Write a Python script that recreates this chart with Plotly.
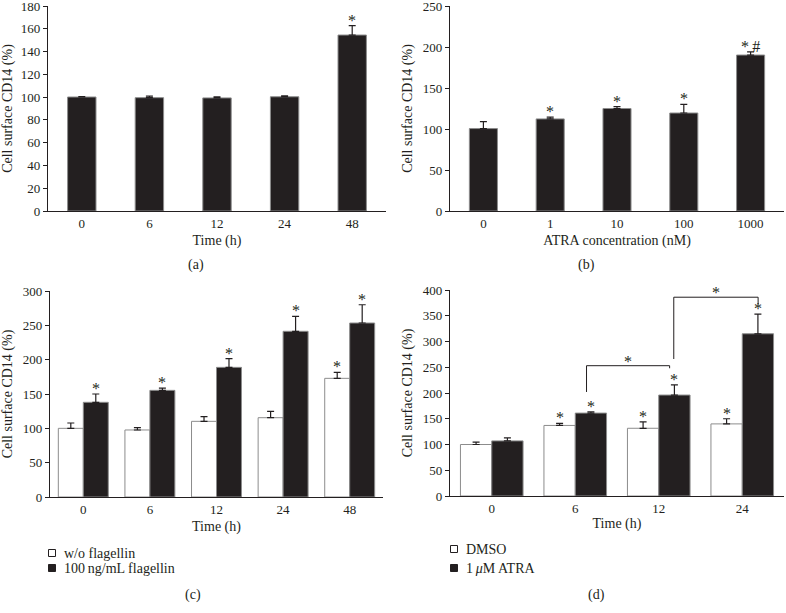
import plotly.graph_objects as go

# ---------------- data ----------------
# Panel (a): time course
time_a = ["0", "6", "12", "24", "48"]
cd14_a = [100.1, 99.5, 99.3, 100.3, 154.5]
err_a = [0.3, 1.4, 1.0, 0.9, 8.2]
sig_a = ["", "", "", "", "*"]

# Panel (b): ATRA dose
atra_b = ["0", "1", "10", "100", "1000"]
cd14_b = [100.5, 112.3, 125.0, 119.5, 190.2]
err_b = [8.5, 2.3, 2.3, 10.5, 3.8]
sig_b = ["", "*", "*", "*", "*\u2009#"]

# Panel (c): flagellin
time_c = ["0", "6", "12", "24", "48"]
cd14_c_ctrl = [100.0, 97.6, 110.2, 115.5, 172.8]
err_c_ctrl = [7.8, 3.3, 6.8, 9.3, 8.8]
sig_c_ctrl = ["", "", "", "", "*"]
cd14_c_flag = [137.9, 155.3, 188.8, 241.3, 253.4]
err_c_flag = [12.1, 3.4, 12.7, 21.7, 26.6]
sig_c_flag = ["*", "*", "*", "*", "*"]
legend_c = ["w/o flagellin", "100\u2009ng/mL flagellin"]

# Panel (d): DMSO vs ATRA
time_d = ["0", "6", "12", "24"]
cd14_d_dmso = [100.0, 137.0, 131.5, 140.0]
err_d_dmso = [4.5, 4.0, 12.5, 10.0]
sig_d_dmso = ["", "*", "*", "*"]
cd14_d_atra = [107.0, 161.0, 196.0, 315.0]
err_d_atra = [6.0, 2.6, 19.6, 38.0]
sig_d_atra = ["", "*", "*", "*"]
legend_d = ["DMSO", "1\u2009<i>\u03bc</i>M ATRA"]
# significance brackets in (d): x_from, x_to, y_top, y_left_end, y_right_end
brk_x0 = [1.135, 2.18]
brk_x1 = [2.13, 3.19]
brk_top = [253, 386]
brk_left = [202, 266]
brk_right = [248, 372]

# ---------------- styling ----------------
W, H = 786, 613
INK = "#231f20"
BLACK = "#231f20"
EDGE = "#8c8c8c"
FONT = "Liberation Serif"
FS_TICK = 13
FS = 14


def px(x):
    return x / W


def py(y):
    return 1 - y / H


fig = go.Figure()


def add_bars(xa, ya, cats, vals, errs, color, name, offset, width):
    n = len(cats)
    fig.add_trace(go.Bar(
        x=list(range(n)), y=vals, name=name, showlegend=False,
        xaxis=xa, yaxis=ya, offset=offset, width=width,
        marker=dict(color=color, line=dict(color=EDGE, width=1)),
        error_y=dict(type="data", array=errs, arrayminus=[0] * n,
                     symmetric=False, color=INK, thickness=1.2, width=3.5),
    ))


def add_stars(xref, yref, vals, errs, sigs, shift):
    for i, (v, e, s) in enumerate(zip(vals, errs, sigs)):
        if s:
            fig.add_annotation(x=i + shift, y=v + e, xref=xref, yref=yref,
                               text=s, showarrow=False, yanchor="bottom",
                               yshift=-5, font=dict(family=FONT, size=16, color=INK))


# (a)
add_bars("x", "y", time_a, cd14_a, err_a, BLACK, "CD14", -0.21, 0.42)
add_stars("x", "y", cd14_a, err_a, sig_a, 0)
# (b)
add_bars("x2", "y2", atra_b, cd14_b, err_b, BLACK, "CD14", -0.21, 0.42)
add_stars("x2", "y2", cd14_b, err_b, sig_b, 0)
# (c)
add_bars("x3", "y3", time_c, cd14_c_ctrl, err_c_ctrl, "white", legend_c[0], -0.375, 0.375)
add_bars("x3", "y3", time_c, cd14_c_flag, err_c_flag, BLACK, legend_c[1], 0.0, 0.375)
add_stars("x3", "y3", cd14_c_ctrl, err_c_ctrl, sig_c_ctrl, -0.1875)
add_stars("x3", "y3", cd14_c_flag, err_c_flag, sig_c_flag, 0.1875)
# (d)
add_bars("x4", "y4", time_d, cd14_d_dmso, err_d_dmso, "white", "DMSO", -0.375, 0.375)
add_bars("x4", "y4", time_d, cd14_d_atra, err_d_atra, BLACK, "1 μM ATRA", 0.0, 0.375)
add_stars("x4", "y4", cd14_d_dmso, err_d_dmso, sig_d_dmso, -0.1875)
add_stars("x4", "y4", cd14_d_atra, err_d_atra, sig_d_atra, 0.1875)

for x0, x1, yt, yl, yr in zip(brk_x0, brk_x1, brk_top, brk_left, brk_right):
    fig.add_shape(type="path", xref="x4", yref="y4",
                  path=f"M {x0},{yl} L {x0},{yt} L {x1},{yt} L {x1},{yr}",
                  line=dict(color=INK, width=1))
    fig.add_annotation(x=(x0 + x1) / 2, y=yt, xref="x4", yref="y4", text="*",
                       showarrow=False, yanchor="bottom", yshift=-6,
                       font=dict(family=FONT, size=16, color=INK))


def yax(dom, anchor, top, dtick, standoff):
    return dict(domain=dom, anchor=anchor, range=[0, top], dtick=dtick, showline=True,
                linecolor=INK, linewidth=1.2, ticks="outside", ticklen=4,
                tickwidth=1.1, tickcolor=INK, showgrid=False, zeroline=False,
                automargin=False, ticklabeloverflow="allow",
                tickfont=dict(family=FONT, size=FS_TICK, color=INK),
                title=dict(text="Cell surface CD14 (%)", standoff=standoff,
                           font=dict(family=FONT, size=FS, color=INK)))


def xax(dom, cats, anchor, title, standoff):
    return dict(domain=dom, anchor=anchor, range=[-0.5, len(cats) - 0.5],
                tickmode="array", tickvals=list(range(len(cats))), ticktext=cats,
                showline=True, linecolor=INK, linewidth=1.2, ticks="",
                showgrid=False, zeroline=False, automargin=False,
                ticklabeloverflow="allow",
                tickfont=dict(family=FONT, size=FS_TICK, color=INK),
                title=dict(text=title, standoff=standoff,
                           font=dict(family=FONT, size=FS, color=INK)))


fig.update_layout(
    width=W, height=H, margin=dict(l=0, r=0, t=0, b=0, autoexpand=False),
    paper_bgcolor="white", plot_bgcolor="white", barmode="overlay",
    showlegend=False,
    xaxis=xax([px(48), px(386)], time_a, "y", "Time (h)", 5),
    yaxis=yax([py(211), py(6)], "x", 180, 20, 6),
    xaxis2=xax([px(450), px(784)], atra_b, "y2", "ATRA concentration (nM)", 5),
    yaxis2=yax([py(211), py(6)], "x2", 250, 50, 6),
    xaxis3=xax([px(50), px(383)], time_c, "y3", "Time (h)", 5),
    yaxis3=yax([py(497), py(291)], "x3", 300, 50, 6),
    xaxis4=xax([px(450), px(784)], time_d, "y4", "Time (h)", 3),
    yaxis4=yax([py(496), py(290)], "x4", 400, 50, 6),
)

# panel labels
for lab, x, y in [("(a)", 196, 265), ("(b)", 586, 265), ("(c)", 193, 595), ("(d)", 596, 595)]:
    fig.add_annotation(x=px(x), y=py(y), xref="paper", yref="paper", text=lab,
                       showarrow=False, xanchor="center", yanchor="middle",
                       font=dict(family=FONT, size=FS, color=INK))

# legends (c) and (d)
for labels, sx, tx, ys in [(legend_c, 52, 62, [553, 568]), (legend_d, 454, 464, [549, 568])]:
    for lab, fill, y in zip(labels, ["white", BLACK], ys):
        fig.add_shape(type="rect", xref="paper", yref="paper",
                      x0=px(sx - 3.5), x1=px(sx + 3.5), y0=py(y + 3.5), y1=py(y - 3.5),
                      fillcolor=fill, line=dict(color=INK, width=1))
        fig.add_annotation(x=px(tx), y=py(y), xref="paper", yref="paper", text=lab,
                           showarrow=False, xanchor="left", yanchor="middle",
                           font=dict(family=FONT, size=FS, color=INK))

fig.write_html(
    "out.html",
    config={"displayModeBar": False},
    post_script="document.body.style.margin='0';document.body.style.overflow='hidden';",
)
